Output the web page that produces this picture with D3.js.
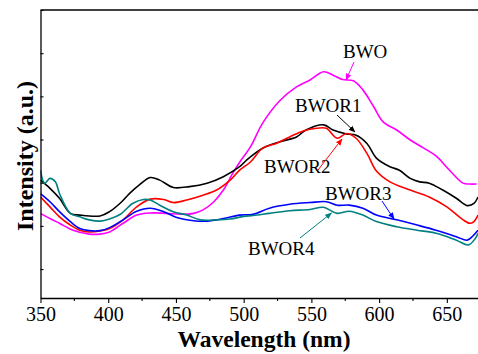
<!DOCTYPE html>
<html>
<head>
<meta charset="utf-8">
<script src="https://cdn.jsdelivr.net/npm/d3@7"></script>
<style>
  html, body { margin: 0; padding: 0; background: #fff; }
  svg { display: block; font-family: 'Liberation Serif', 'Times New Roman', serif; }
</style>
</head>
<body>
<div id="chart"></div>
<script>
// x tick labels
const xTicks = [350, 400, 450, 500, 550, 600, 650];
const xMinorTicks = [375, 425, 475, 525, 575, 625];
const yTicks = [1, 2, 3, 4, 5, 6, 7];

// [wavelength nm, intensity a.u.]
const bwo = [[350,2.29],[357,2.17],[364,2.06],[374,1.90],[386,1.81],[394,1.81],[401,1.86],[411,2.06],[421,2.25],[431,2.30],[443,2.29],[453,2.27],[463,2.29],[470,2.37],[478,2.56],[485,2.83],[492,3.22],[498,3.52],[505,3.83],[514,4.38],[527,4.91],[539,5.22],[549,5.38],[559,5.57],[566,5.49],[573,5.39],[581,5.36],[588,5.15],[596,4.76],[603,4.41],[613,4.22],[623,3.99],[633,3.80],[642,3.62],[652,3.29],[662,2.99],[667,2.97],[672,2.97]];
const bwor1 = [[350,3.06],[357,2.87],[364,2.64],[372,2.29],[379,2.25],[394,2.23],[401,2.33],[409,2.53],[416,2.76],[423,2.95],[431,3.12],[438,3.06],[448,2.89],[460,2.91],[473,2.99],[485,3.14],[497,3.37],[502,3.52],[505,3.60],[514,3.80],[527,3.95],[539,4.06],[546,4.22],[559,4.34],[566,4.22],[576,4.13],[583,4.10],[591,3.91],[598,3.57],[608,3.37],[615,3.29],[623,3.10],[630,3.02],[637,2.99],[647,2.83],[657,2.64],[665,2.47],[670,2.52],[673,2.67]];
const bwor2 = [[350,2.67],[357,2.44],[364,2.21],[372,2.02],[379,1.90],[386,1.86],[394,1.88],[401,1.94],[411,2.14],[421,2.44],[431,2.62],[441,2.61],[448,2.54],[458,2.60],[470,2.71],[480,2.83],[490,3.06],[497,3.29],[505,3.48],[514,3.80],[524,3.91],[534,4.06],[544,4.20],[554,4.26],[561,4.26],[569,4.03],[576,4.14],[583,4.03],[591,3.68],[598,3.27],[608,3.02],[623,2.83],[637,2.67],[650,2.44],[662,2.14],[667,2.06],[670,2.10],[673,2.25]];
const bwor3 = [[350,2.75],[357,2.56],[364,2.33],[372,2.10],[379,1.94],[386,1.89],[394,1.89],[401,1.96],[411,2.14],[421,2.34],[431,2.41],[441,2.33],[450,2.20],[463,2.12],[473,2.11],[485,2.17],[497,2.25],[507,2.27],[519,2.41],[534,2.50],[549,2.54],[561,2.56],[569,2.48],[578,2.48],[588,2.41],[598,2.25],[613,2.14],[628,2.02],[642,1.90],[657,1.75],[665,1.67],[669,1.76],[673,1.90]];
const bwor4 = [[350,3.29],[353,2.99],[357,3.10],[361,3.02],[364,2.75],[372,2.29],[379,2.21],[386,2.14],[394,2.11],[401,2.16],[409,2.27],[418,2.52],[426,2.61],[431,2.60],[438,2.48],[448,2.33],[458,2.25],[468,2.14],[480,2.14],[490,2.16],[500,2.22],[507,2.24],[519,2.29],[534,2.35],[549,2.38],[559,2.43],[569,2.29],[578,2.34],[588,2.25],[598,2.10],[613,1.98],[628,1.90],[642,1.83],[657,1.67],[666,1.56],[671,1.71],[673,1.83]];

const series = [
  { name: 'BWO', data: bwo, color: '#ff00ff' },
  { name: 'BWOR1', data: bwor1, color: '#000000' },
  { name: 'BWOR2', data: bwor2, color: '#ff0000' },
  { name: 'BWOR3', data: bwor3, color: '#0000ff' },
  { name: 'BWOR4', data: bwor4, color: '#008080' }
];

const W = 478, H = 354;
const m = { left: 40.5, top: 10, bottom: 298, right: 480.7 };

const svg = d3.select('#chart').append('svg')
  .attr('width', W).attr('height', H);

const x = d3.scaleLinear().domain([350, 675]).range([m.left, m.right]);
const y = d3.scaleLinear().domain([0.33, 7]).range([m.bottom, m.top]);

const defs = svg.append('defs');
defs.append('clipPath').attr('id', 'plot')
  .append('rect').attr('x', m.left).attr('y', m.top).attr('width', m.right - m.left).attr('height', m.bottom - m.top);

// arrow heads, one per colour
series.forEach((s, i) => {
  defs.append('marker').attr('id', 'arr' + i)
    .attr('viewBox', '0 0 10 10').attr('refX', 9).attr('refY', 5)
    .attr('markerWidth', 7).attr('markerHeight', 7).attr('orient', 'auto')
    .attr('markerUnits', 'userSpaceOnUse')
    .append('path').attr('d', 'M0,1 L10,5 L0,9 Z').attr('fill', s.color);
});

// curves
const line = d3.line().x(d => x(d[0])).y(d => y(d[1])).curve(d3.curveCatmullRom.alpha(0.5));
const plotG = svg.append('g').attr('clip-path', 'url(#plot)');
series.forEach(s => {
  plotG.append('path').datum(s.data)
    .attr('fill', 'none').attr('stroke', s.color).attr('stroke-width', 1.6)
    .attr('stroke-linejoin', 'round').attr('d', line);
});

// axes
const xAxis = svg.append('g').attr('transform', `translate(0,${m.bottom})`)
  .call(d3.axisBottom(x).tickValues(xTicks).tickSize(5).tickSizeOuter(0).tickPadding(4));
xAxis.select('.domain').attr('stroke-width', 1.3);
xAxis.selectAll('.tick line').attr('stroke-width', 1.1);
xAxis.selectAll('text').style('font-size', '20px').style('font-family', "'Liberation Serif', serif").attr('fill', '#000');

svg.append('g').attr('transform', `translate(0,${m.bottom})`)
  .selectAll('line').data(xMinorTicks).enter().append('line')
  .attr('x1', d => x(d)).attr('x2', d => x(d)).attr('y1', 0).attr('y2', 3)
  .attr('stroke', '#000').attr('stroke-width', 1.1);

const yAxis = svg.append('g').attr('transform', `translate(${m.left},0)`)
  .call(d3.axisLeft(y).tickValues(yTicks).tickSize(-3).tickSizeOuter(0).tickFormat(''));
yAxis.select('.domain').attr('stroke-width', 1.3);
yAxis.selectAll('.tick line').attr('stroke-width', 1.1);

// top frame line
svg.append('line').attr('x1', m.left).attr('x2', m.right).attr('y1', m.top).attr('y2', m.top)
  .attr('stroke', '#000').attr('stroke-width', 1.3);

// axis titles
svg.append('text').attr('x', 264).attr('y', 347).attr('text-anchor', 'middle')
  .style('font-size', '23.5px').style('font-weight', 'bold').text('Wavelength (nm)');
svg.append('text').attr('transform', 'translate(33,156) rotate(-90)').attr('text-anchor', 'middle')
  .style('font-size', '24px').style('font-weight', 'bold').text('Intensity (a.u.)');

// series labels with arrows
const labels = [
  { i: 0, tx: 343, ty: 58, from: [354, 62], to: [346, 80] },
  { i: 1, tx: 295, ty: 112, from: [337, 115], to: [355, 132] },
  { i: 2, tx: 264, ty: 173, from: [318, 170], to: [342, 139] },
  { i: 3, tx: 325, ty: 200, from: [382, 201], to: [394, 219] },
  { i: 4, tx: 248, ty: 255, from: [300, 238], to: [331.5, 213] }
];
labels.forEach(l => {
  const s = series[l.i];
  svg.append('text').attr('x', l.tx).attr('y', l.ty)
    .style('font-size', '19px').attr('fill', '#000').text(s.name);
  svg.append('line').attr('x1', l.from[0]).attr('y1', l.from[1]).attr('x2', l.to[0]).attr('y2', l.to[1])
    .attr('stroke', s.color).attr('stroke-width', 1).attr('marker-end', `url(#arr${l.i})`);
});
</script>
</body>
</html>
